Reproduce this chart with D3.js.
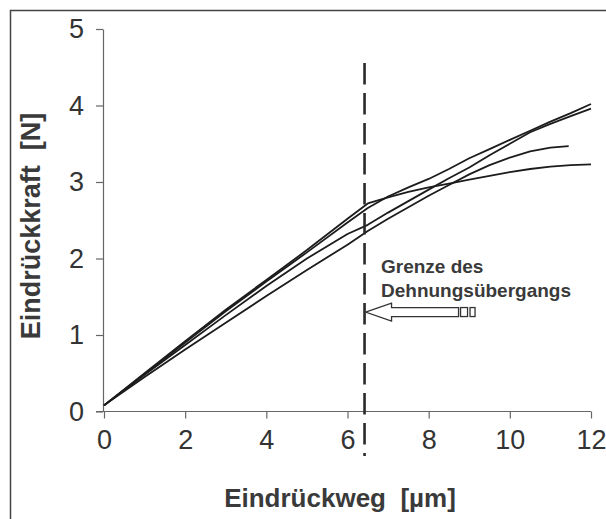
<!DOCTYPE html>
<html>
<head>
<meta charset="utf-8">
<script src="https://cdn.jsdelivr.net/npm/d3@7"></script>
<style>
html,body{margin:0;padding:0;background:#fff;}
svg{display:block;}
</style>
</head>
<body>
<svg id="chart" width="606" height="519"></svg>
<script>
// ---- data ----
const xTicks = [0, 2, 4, 6, 8, 10, 12];
const yTicks = [0, 1, 2, 3, 4, 5];
const xTitle = "Eindrückweg  [µm]";
const yTitle = "Eindrückkraft  [N]";
const annotationLines = ["Grenze des", "Dehnungsübergangs"];
const boundaryX = 6.42;
const arrowY = 1.30;

const xA = [0, 1, 2, 3, 4, 5, 6, 6.5, 7, 7.5, 8, 8.5, 9, 9.5, 10, 10.5, 11, 11.5, 12];
const curve1 = [0.08, 0.49, 0.90, 1.31, 1.70, 2.08, 2.47, 2.66, 2.81, 2.93, 3.04, 3.17, 3.31, 3.43, 3.55, 3.67, 3.79, 3.90, 4.02];
const curve2 = [0.08, 0.50, 0.92, 1.33, 1.72, 2.11, 2.52, 2.72, 2.80, 2.87, 2.93, 2.98, 3.03, 3.08, 3.13, 3.17, 3.20, 3.22, 3.23];
const curve3 = [0.08, 0.48, 0.87, 1.26, 1.64, 2.00, 2.32, 2.44, 2.60, 2.75, 2.90, 3.05, 3.19, 3.35, 3.50, 3.65, 3.76, 3.86, 3.96];
const xB = [0, 1, 2, 3, 4, 5, 6, 6.5, 7, 7.5, 8, 8.5, 9, 9.5, 10, 10.5, 11, 11.45];
const curve4 = [0.08, 0.45, 0.81, 1.16, 1.51, 1.85, 2.18, 2.36, 2.52, 2.67, 2.82, 2.96, 3.10, 3.22, 3.32, 3.40, 3.45, 3.47];

const series = [
  {x: xA, y: curve1},
  {x: xA, y: curve2},
  {x: xA, y: curve3},
  {x: xB, y: curve4}
];

// ---- drawing ----
const svg = d3.select("#chart");
const x = d3.scaleLinear().domain([0, 12]).range([104, 591]);
const y = d3.scaleLinear().domain([0, 5]).range([411.5, 29]);

// frame
svg.append("rect")
  .attr("x", 10.5).attr("y", 10.5)
  .attr("width", 620).attr("height", 540)
  .attr("fill", "none").attr("stroke", "#444").attr("stroke-width", 1.5);

const axisColor = "#666";
const tickFont = "'Liberation Sans', Arial, sans-serif";

const gx = svg.append("g").attr("transform", `translate(0,${y(0)})`)
  .call(d3.axisBottom(x).tickValues(xTicks).tickSizeInner(7).tickSizeOuter(0).tickPadding(11).tickFormat(d3.format("d")));
const gy = svg.append("g").attr("transform", `translate(${x(0) - 1},0)`)
  .call(d3.axisLeft(y).tickValues(yTicks).tickSizeInner(7).tickSizeOuter(0).tickPadding(12).tickFormat(d3.format("d")));

[gx, gy].forEach(g => {
  g.select(".domain").attr("stroke", axisColor).attr("stroke-width", 1.2);
  g.selectAll(".tick line").attr("stroke", axisColor).attr("stroke-width", 1.2);
  g.selectAll(".tick text").attr("fill", "#333").style("font-family", tickFont).style("font-size", "27px");
});
// extend x-axis slightly left of the y-axis
gx.select(".domain").attr("d", `M${x(0) - 8},0H${x(12)}`);

// curves
const line = d3.line().x(d => x(d[0])).y(d => y(d[1]));
series.forEach(s => {
  const pts = s.x.map((v, i) => [v, s.y[i]]);
  svg.append("path").datum(pts)
    .attr("d", line)
    .attr("fill", "none")
    .attr("stroke", "#1c1c1c")
    .attr("stroke-width", 1.8)
    .attr("stroke-linejoin", "round");
});

// dashed boundary line
svg.append("line")
  .attr("x1", x(boundaryX)).attr("x2", x(boundaryX))
  .attr("y1", 63).attr("y2", 456)
  .attr("stroke", "#2a2a2a").attr("stroke-width", 2.6)
  .attr("stroke-dasharray", "21.5,8.5");

// annotation text
const ann = svg.append("text")
  .attr("fill", "#3a3a3a")
  .style("font-family", tickFont)
  .style("font-weight", "bold")
  .style("font-size", "19px");
annotationLines.forEach((t, i) => {
  ann.append("tspan").attr("x", 381).attr("y", 273 + i * 24).text(t);
});

// arrow pointing to the boundary
const tx = x(boundaryX) + 1, ty = y(arrowY);
const arrowPath = `M${tx},${ty} L${tx + 26},${ty - 9} L${tx + 26},${ty - 4.5} L${tx + 93},${ty - 4.5} L${tx + 93},${ty + 4.5} L${tx + 26},${ty + 4.5} L${tx + 26},${ty + 9} Z`;
svg.append("path").attr("d", arrowPath)
  .attr("fill", "#fff").attr("stroke", "#333").attr("stroke-width", 1.3);
svg.append("rect").attr("x", tx + 95).attr("y", ty - 4.5).attr("width", 7).attr("height", 9)
  .attr("fill", "#fff").attr("stroke", "#333").attr("stroke-width", 1.3);
svg.append("rect").attr("x", tx + 104.5).attr("y", ty - 4.5).attr("width", 5).attr("height", 9)
  .attr("fill", "#fff").attr("stroke", "#333").attr("stroke-width", 1.3);

// axis titles
svg.append("text")
  .attr("x", 340).attr("y", 507)
  .attr("text-anchor", "middle")
  .attr("fill", "#3a3a3a")
  .style("font-family", tickFont).style("font-weight", "bold").style("font-size", "26px")
  .style("white-space", "pre")
  .text(xTitle);
svg.append("text")
  .attr("transform", "translate(40,226) rotate(-90)")
  .attr("text-anchor", "middle")
  .attr("fill", "#3a3a3a")
  .style("font-family", tickFont).style("font-weight", "bold").style("font-size", "27px")
  .style("white-space", "pre")
  .text(yTitle);
</script>
</body>
</html>
